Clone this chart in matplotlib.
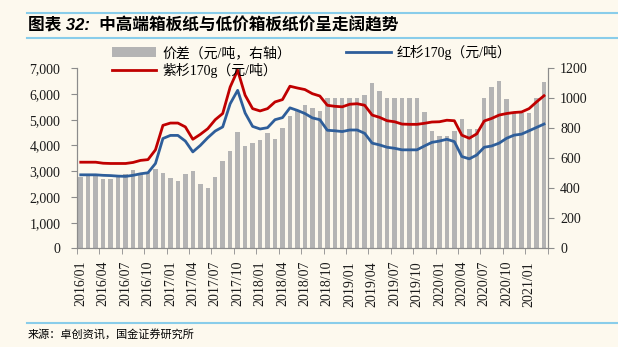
import matplotlib
matplotlib.use("Agg")
import matplotlib.pyplot as plt
import numpy as np
import pandas as pd
from matplotlib.font_manager import FontProperties
from matplotlib.lines import Line2D
from matplotlib.ticker import FuncFormatter, MultipleLocator

# monthly prices, 2016/01 - 2021/03
months = pd.period_range("2016-01", "2021-03", freq="M").strftime("%Y/%m").tolist()

spread = [  # 价差, right axis
    476, 487, 487, 464, 460, 480, 498, 520, 493, 502, 531, 502,
    471, 449, 498, 513, 427, 400, 478, 580, 649, 776, 680, 704,
    722, 771, 729, 804, 884, 920, 958, 933, 913, 1000, 1000, 1000,
    1000, 1000, 1020, 1100, 1050, 1000, 1000, 1000, 1000, 1000, 910, 783,
    750, 750, 779, 860, 794, 794, 1003, 1073, 1117, 998, 910, 900,
    900, 1004, 1109,
]
zishan = [  # 紫杉170g
    3350, 3350, 3350, 3310, 3300, 3300, 3300, 3340, 3420, 3450, 3830, 4780,
    4870, 4870, 4720, 4240, 4430, 4650, 5000, 5240, 6270, 6920, 5950, 5430,
    5340, 5430, 5690, 5780, 6300, 6230, 6170, 6010, 5920, 5560, 5520, 5500,
    5600, 5620, 5560, 5180, 5090, 4960, 4920, 4830, 4820, 4820, 4860, 4910,
    4920, 4980, 4960, 4400, 4280, 4450, 4950, 5050, 5180, 5240, 5280, 5300,
    5430, 5690, 5930,
]
hongshan = [  # 红杉170g
    2860, 2860, 2860, 2840, 2830, 2810, 2800, 2840, 2900, 2940, 3300, 4270,
    4390, 4390, 4170, 3750, 4000, 4300, 4560, 4720, 5620, 6140, 5260, 4740,
    4640, 4690, 5000, 5080, 5460, 5360, 5240, 5070, 5000, 4590, 4570, 4540,
    4600, 4600, 4470, 4090, 4020, 3930, 3890, 3830, 3830, 3830, 3980, 4120,
    4170, 4240, 4150, 3570, 3480, 3630, 3930, 3980, 4090, 4280, 4400, 4440,
    4570, 4700, 4830,
]

BG = "#FDF9EE"
RED = "#C00000"
BLUE = "#2E5E9A"
GREY = "#B4B4B4"
SPINE = "#8C8C8C"
RULE = "#89CDEA"

serif = ["Liberation Serif", "Noto Sans CJK SC"]
tick_font = FontProperties(family=serif, size=10)
legend_font = FontProperties(family=serif, size=10)

fig = plt.figure(figsize=(6.18, 3.47), dpi=100, facecolor=BG)
ax = fig.add_axes([0.1246, 0.2839, 0.7617, 0.5196])
ax2 = ax.twinx()

x = np.arange(len(months))
bars = ax2.bar(x, spread, width=0.6, color=GREY, label="价差（元/吨，右轴）")
l_red, = ax.plot(x, zishan, color=RED, lw=2, solid_joinstyle="round", label="紫杉170g（元/吨）")
l_blue, = ax.plot(x, hongshan, color=BLUE, lw=2, solid_joinstyle="round", label="红杉170g（元/吨）")

# lines on top of the bars
ax.set_zorder(ax2.get_zorder() + 1)
ax.patch.set_visible(False)
ax2.patch.set_facecolor(BG)

ax.set_xlim(-0.5, len(months) - 0.5)
ax.set_ylim(0, 7000)
ax2.set_ylim(0, 1200)
ax.yaxis.set_major_locator(MultipleLocator(1000))
ax2.yaxis.set_major_locator(MultipleLocator(200))
ax.yaxis.set_major_formatter(FuncFormatter(lambda v, _: f"{v:,.0f}"))

ax.set_xticks(x[::3])
ax.set_xticklabels(months[::3], rotation=90)
ax.set_xticks(np.arange(-0.5, len(months), 3), minor=True)
ax.tick_params(axis="x", which="major", length=0, pad=9)
ax.tick_params(axis="x", which="minor", length=4, color=SPINE, direction="out")
ax.tick_params(axis="y", length=4, color=SPINE, pad=8)
ax2.tick_params(axis="y", length=4, color=SPINE, pad=5)

for lab in ax.get_xticklabels() + ax.get_yticklabels() + ax2.get_yticklabels():
    lab.set_fontproperties(tick_font)
    lab.set_color("#1a1a1a")

for a in (ax, ax2):
    a.spines["top"].set_visible(False)
    for s in ("left", "right", "bottom"):
        a.spines[s].set_color(SPINE)
        a.spines[s].set_linewidth(0.8)

ax.legend(
    [bars, l_red, l_blue],
    [bars.get_label(), l_red.get_label(), l_blue.get_label()],
    ncol=2, frameon=False, prop=legend_font,
    loc="upper left", bbox_to_anchor=(112 / 618, 1 - 45 / 347),
    bbox_transform=fig.transFigure,
    handlelength=3.2, handletextpad=0.4, columnspacing=4.0,
    labelspacing=0.2, borderaxespad=0, borderpad=0,
)

# title block and source note
fig.add_artist(Line2D([27 / 618, 1], [1 - 13 / 347] * 2, transform=fig.transFigure, color=RULE, lw=1.5))
fig.add_artist(Line2D([27 / 618, 1], [1 - 38 / 347] * 2, transform=fig.transFigure, color=RULE, lw=1.5))
fig.add_artist(Line2D([27 / 618, 1], [1 - 323 / 347] * 2, transform=fig.transFigure, color=RULE, lw=1.5))
fig.text(28 / 618, 1 - 25 / 347, "图表 32:  中高端箱板纸与低价箱板纸价呈走阔趋势",
         family=["Liberation Sans", "Noto Sans CJK SC"], fontsize=12,
         weight="bold", style="italic", va="center", ha="left")
fig.text(28 / 618, 1 - 335 / 347, "来源：卓创资讯，国金证券研究所",
         family=["Noto Sans CJK SC"], fontsize=8, va="center", ha="left")

fig.savefig("out.png", dpi=100, facecolor=BG)
